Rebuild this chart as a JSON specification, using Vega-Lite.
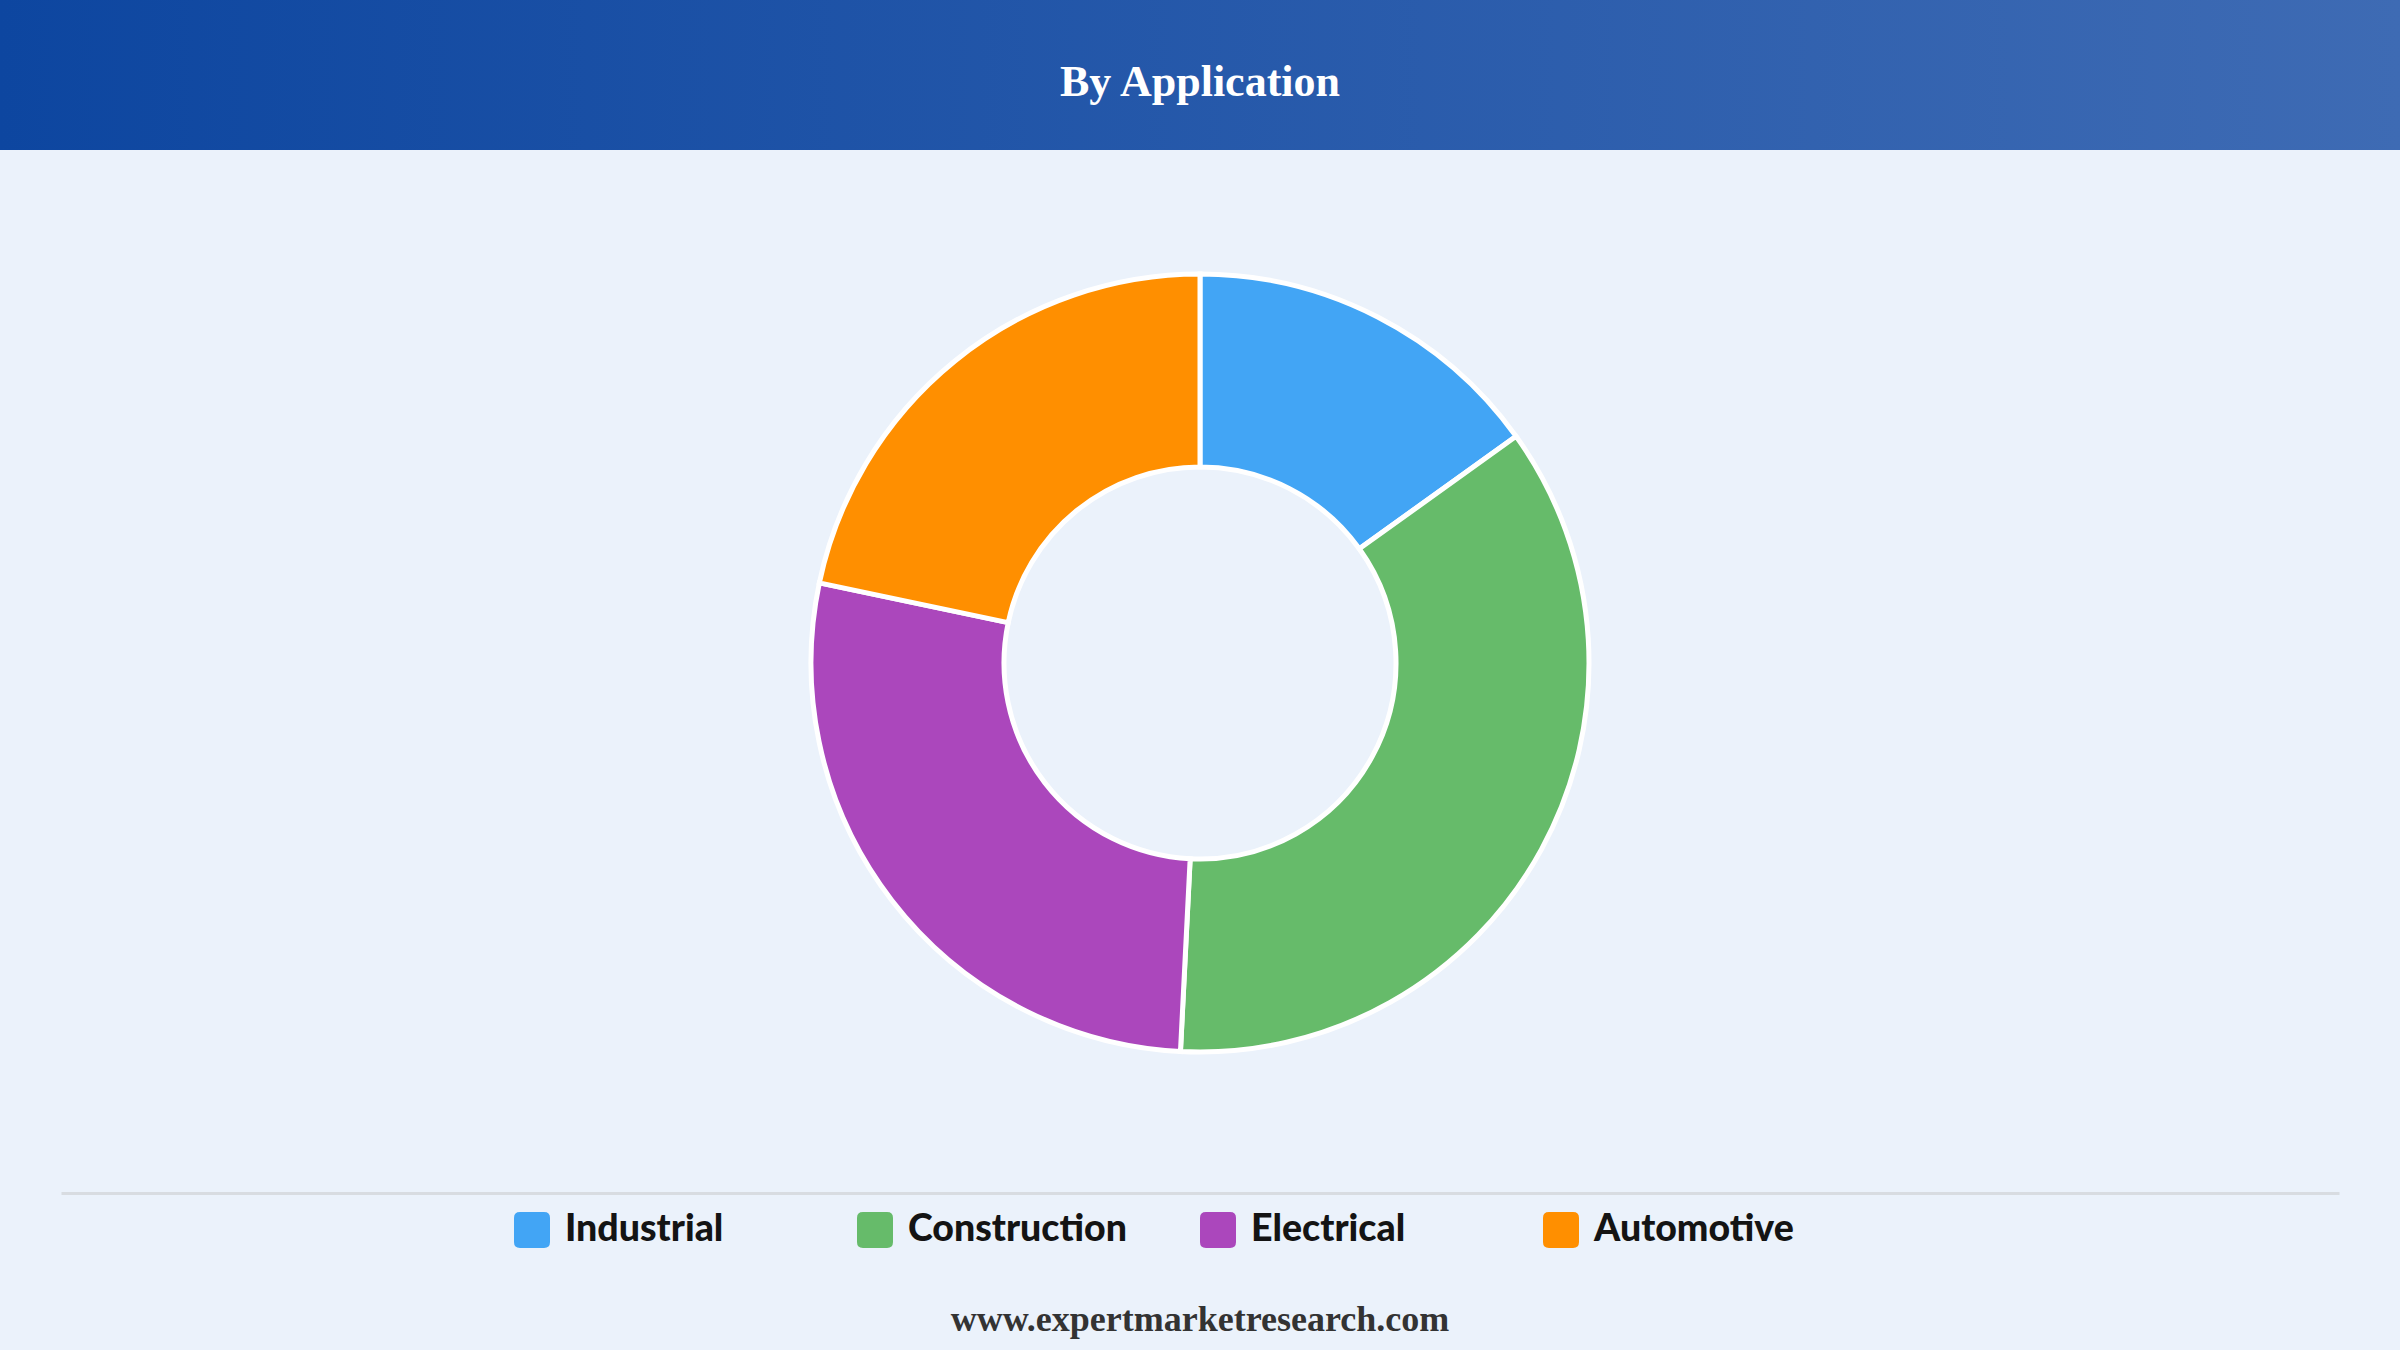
{
  "$schema": "https://vega.github.io/schema/vega-lite/v6.json",
  "background": "#EBF2FB",
  "padding": 0,
  "spacing": 0,
  "center": true,
  "config": {"view": {"stroke": null}, "concat": {"spacing": 0}},
  "datasets": {
    "shares": [
      {"application": "Industrial", "share": 15.1, "rank": 1},
      {"application": "Construction", "share": 35.7, "rank": 2},
      {"application": "Electrical", "share": 27.5, "rank": 3},
      {"application": "Automotive", "share": 21.7, "rank": 4}
    ],
    "header": [{"title": "By Application"}],
    "footer": [{"site": "www.expertmarketresearch.com"}]
  },
  "vconcat": [
    {
      "width": 2400,
      "height": 150,
      "view": {
        "stroke": null,
        "fill": {
          "gradient": "linear",
          "x1": 0, "y1": 0, "x2": 1, "y2": 0,
          "stops": [
            {"offset": 0, "color": "#0D46A0"},
            {"offset": 1, "color": "#3E6BB4"}
          ]
        }
      },
      "data": {"name": "header"},
      "mark": {"type": "text", "font": "Liberation Serif", "fontWeight": "bold", "fontSize": 44, "color": "#FFFFFF", "align": "center", "baseline": "middle", "dy": 8},
      "encoding": {"text": {"field": "title", "type": "nominal"}}
    },
    {
      "width": 2400,
      "height": 1026,
      "data": {"name": "shares"},
      "mark": {"type": "arc", "outerRadius": 389, "innerRadius": 196, "stroke": "#FFFFFF", "strokeWidth": 5},
      "encoding": {
        "theta": {"field": "share", "type": "quantitative", "stack": true},
        "order": {"field": "rank", "type": "quantitative", "sort": "ascending"},
        "color": {
          "field": "application",
          "type": "nominal",
          "sort": ["Industrial", "Construction", "Electrical", "Automotive"],
          "scale": {
            "domain": ["Industrial", "Construction", "Electrical", "Automotive"],
            "range": ["#42A5F5", "#66BB6A", "#AB47BC", "#FF8F00"]
          },
          "legend": null
        }
      }
    },
    {
      "width": 2278,
      "height": 108,
      "data": {"name": "shares"},
      "encoding": {
        "x": {
          "field": "rank",
          "type": "quantitative",
          "scale": {"domain": [-0.3207, 6.3207], "nice": false, "zero": false},
          "axis": {"orient": "top", "offset": -17, "domain": true, "domainColor": "#D8DCE1", "domainWidth": 3, "ticks": false, "labels": false, "grid": false, "title": null, "minExtent": 0, "maxExtent": 0}
        }
      },
      "layer": [
        {
          "mark": {"type": "point", "shape": "M-0.67,-1H0.67Q1,-1 1,-0.67V0.67Q1,1 0.67,1H-0.67Q-1,1 -1,0.67V-0.67Q-1,-1 -0.67,-1Z", "size": 1296, "filled": true, "opacity": 1, "strokeWidth": 0, "xOffset": 18},
          "encoding": {
            "color": {
              "field": "application",
              "type": "nominal",
              "sort": ["Industrial", "Construction", "Electrical", "Automotive"],
              "legend": null
            }
          }
        },
        {
          "mark": {"type": "text", "align": "left", "baseline": "middle", "font": "Lato", "fontWeight": 900, "fontSize": 37.5, "color": "#141414", "xOffset": 51},
          "encoding": {"text": {"field": "application", "type": "nominal"}}
        }
      ]
    },
    {
      "width": 2400,
      "height": 66,
      "data": {"name": "footer"},
      "mark": {"type": "text", "font": "Liberation Serif", "fontWeight": "bold", "fontSize": 36, "color": "#333333", "align": "center", "baseline": "middle", "dy": 3},
      "encoding": {"text": {"field": "site", "type": "nominal"}}
    }
  ]
}
